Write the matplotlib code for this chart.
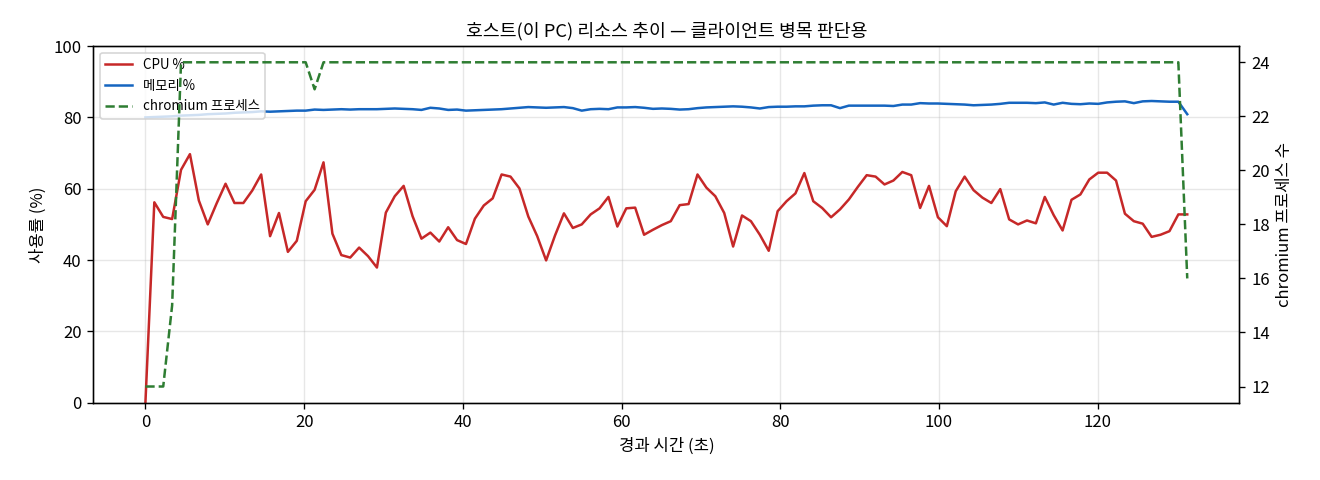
import numpy as np
import matplotlib
matplotlib.use("Agg")
import matplotlib.pyplot as plt

plt.rcParams['font.family'] = ['Noto Sans CJK KR', 'DejaVu Sans']
plt.rcParams['axes.unicode_minus'] = False

# 샘플 간격 (초)
SAMPLE_SEC = 1.122

cpu = [0.0, 56.2, 52.1, 51.5, 65.3, 69.7, 56.7, 50.0, 55.9, 61.4,
       56.0, 56.0, 59.5, 64.0, 46.7, 53.2, 42.3, 45.4, 56.5, 59.7,
       67.4, 47.4, 41.4, 40.7, 43.5, 41.1, 37.9, 53.3, 57.9, 60.8,
       52.3, 46.0, 47.7, 45.2, 49.2, 45.6, 44.5, 51.6, 55.3, 57.3,
       64.0, 63.4, 60.1, 52.2, 46.7, 39.9, 46.9, 53.1, 49.0, 50.0,
       52.8, 54.5, 57.7, 49.4, 54.5, 54.7, 47.1, 48.5, 49.8, 50.9,
       55.4, 55.7, 64.0, 60.3, 57.9, 53.2, 43.8, 52.5, 50.9, 47.1,
       42.6, 53.7, 56.5, 58.7, 64.4, 56.5, 54.6, 52.0, 54.2, 57.0,
       60.5, 63.8, 63.4, 61.2, 62.3, 64.7, 63.8, 54.6, 60.8, 52.0,
       49.5, 59.3, 63.4, 59.6, 57.5, 56.0, 59.9, 51.4, 50.0, 51.1,
       50.3, 57.7, 52.6, 48.3, 56.9, 58.4, 62.6, 64.5, 64.5, 62.3,
       53.0, 50.9, 50.2, 46.5, 47.1, 48.1, 52.8, 52.8]

mem = [80.0, 80.1, 80.2, 80.3, 80.5, 80.6, 80.7, 80.9, 81.0, 81.1,
       81.3, 81.4, 81.5, 81.7, 81.6, 81.7, 81.8, 81.9, 81.9, 82.2,
       82.1, 82.2, 82.3, 82.2, 82.3, 82.3, 82.3, 82.4, 82.5, 82.4,
       82.3, 82.1, 82.7, 82.5, 82.1, 82.2, 81.9, 82.0, 82.1, 82.2,
       82.3, 82.5, 82.7, 82.9, 82.8, 82.7, 82.8, 82.9, 82.6, 81.9,
       82.3, 82.4, 82.3, 82.8, 82.8, 82.9, 82.7, 82.4, 82.5, 82.4,
       82.2, 82.3, 82.6, 82.8, 82.9, 83.0, 83.1, 83.0, 82.8, 82.5,
       82.9, 83.0, 83.0, 83.1, 83.1, 83.3, 83.4, 83.4, 82.6, 83.3,
       83.3, 83.3, 83.3, 83.3, 83.2, 83.6, 83.6, 84.0, 83.9, 83.9,
       83.8, 83.7, 83.6, 83.4, 83.5, 83.6, 83.8, 84.1, 84.1, 84.1,
       84.0, 84.2, 83.6, 84.1, 83.8, 83.7, 83.9, 83.8, 84.2, 84.4,
       84.5, 84.0, 84.5, 84.6, 84.5, 84.4, 84.4, 80.9]

procs = [12, 12, 12, 15] + [24] * 15 + [23] + [24] * 97 + [16]

t = np.arange(len(cpu)) * SAMPLE_SEC

fig, ax = plt.subplots(figsize=(11, 4), dpi=120)
fig.subplots_adjust(left=0.0707, right=0.9389, bottom=0.161, top=0.904)

l1, = ax.plot(t, cpu, color='#c62828', lw=1.5, label='CPU %')
l2, = ax.plot(t, mem, color='#1565c0', lw=1.5, label='메모리 %')
ax.set_ylim(0, 100)
ax.set_xlabel('경과 시간 (초)')
ax.set_ylabel('사용률 (%)')
ax.grid(True, alpha=0.3)

ax2 = ax.twinx()
l3, = ax2.plot(t, procs, color='#2e7d32', lw=1.5, ls='--', label='chromium 프로세스')
ax2.set_ylabel('chromium 프로세스 수')

ax.set_title('호스트(이 PC) 리소스 추이 — 클라이언트 병목 판단용', fontsize=11)
ax.legend(handles=[l1, l2, l3], loc='upper left', fontsize=8)

plt.savefig('out.png', dpi=120)
